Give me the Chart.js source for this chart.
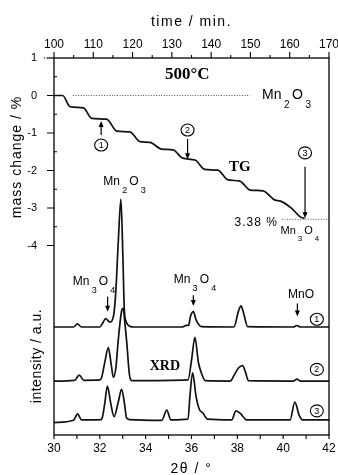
<!DOCTYPE html>
<html>
<head>
<meta charset="utf-8">
<script src="https://cdn.jsdelivr.net/npm/chart.js@4.4.0/dist/chart.umd.min.js"></script>
<style>
  html, body { margin: 0; padding: 0; background: #fff; }
  #wrap { width: 338px; height: 475px; }
</style>
</head>
<body>
<div id="wrap"><canvas id="chart" width="338" height="475"></canvas></div>
<script>
// TG curve at 500°C: time / min against mass change / %
const tgTime = [100, 102.2, 104.1, 107.5, 109.6, 113.4, 116.0, 119.3, 121.9, 124.4, 127.4, 130.3,
                132.8, 135.9, 138.4, 141.7, 144.3, 147.3, 149.9, 153.2, 156.3, 157.5, 160.5, 162.6, 163.8];
const tgMass = [0, 0, -0.30, -0.33, -0.61, -0.63, -0.95, -0.97, -1.23, -1.25, -1.43, -1.45,
                -1.67, -1.72, -1.97, -1.99, -2.25, -2.28, -2.52, -2.54, -2.79, -2.81, -3.01, -3.23, -3.28];

// dotted reference levels (Mn2O3 start, Mn3O4 end)
const levelTime = [[104.8, 149.9], [158.0, 170]];
const levelMass = [0, -3.3];

// XRD patterns (2θ / °, intensity a.u.) for samples 1, 2, 3
const theta1 = [30.0, 30.85, 31.02, 31.2, 32.0, 32.12, 32.25, 32.44, 32.6, 32.7, 32.8, 32.92, 33.0, 33.07, 33.15, 33.3, 33.5,
                35.6, 35.75, 35.88, 35.95, 36.08, 36.2, 36.44, 37.85, 38.05, 38.16, 38.26, 38.45, 40.45, 40.6, 40.75, 42.0];
const intensity1 = [0, 0, 0.8, 0, 0, 1.0, 2.2, 1.3, 3, 9.7, 22, 33.9, 20, 4.4, 1.4, 0.2, 0,
                    0, 0.4, 0.5, 2.7, 4.1, 1.9, 0.1, 0, 4.2, 5.6, 4.0, 0.1, 0, 0.4, 0, 0];

const theta2 = [30.0, 30.9, 31.1, 31.3, 32.0, 32.08, 32.22, 32.37, 32.49, 32.59, 32.7, 32.8, 32.95, 33.02, 33.1, 33.17, 33.29, 33.4,
                35.85, 36.0, 36.15, 36.3, 36.44, 36.6, 37.7, 37.82, 38.04, 38.23, 38.35, 38.48, 40.45, 40.6, 40.75, 42.0];
const intensity2 = [0, 0.2, 1.6, 0.2, 0.3, 1.0, 5.1, 8.9, 4.7, 1.0, 3.5, 10.6, 18.6, 19.3, 15, 10.6, 1.8, 0.1,
                    0.3, 5.5, 11.6, 5, 2.0, 0.1, 0, 1.1, 3.4, 4.1, 2.5, 0.1, 0, 0.5, 0, 0];

const theta3 = [30.0, 30.85, 31.03, 31.2, 32.05, 32.12, 32.22, 32.33, 32.47, 32.62, 32.8, 32.95, 33.07, 33.17, 33.3, 34.7, 34.92, 35.1,
                35.85, 35.93, 36.05, 36.2, 36.35, 36.49, 36.7, 37.75, 37.94, 38.15, 38.4, 40.3, 40.51, 40.7, 40.85, 42.0];
const intensity3 = [-0.4, 0.2, 1.9, 0.3, 0.4, 1.2, 4.9, 9.3, 4.9, 1.2, 4.9, 8.4, 4.9, 0.8, 0.4, 0.2, 2.9, 0.3,
                    0.5, 6.5, 12.8, 6.5, 3, 2.2, 0.5, 0.3, 2.7, 1.9, 0.3, 0.3, 5.0, 1.5, 0.3, 0.3];

const xrdOffset = [28.65, 14.3, 3.7];

// axis ticks
const timeTicks = [100, 110, 120, 130, 140, 150, 160, 170];
const massTicks = [1, 0, -1, -2, -3, -4];
const thetaTicks = [30, 32, 34, 36, 38, 40, 42];

const SANS = '"Liberation Sans", Arial, sans-serif';
const SERIF = '"Liberation Serif", "Times New Roman", serif';

// annotations: [xAxis, yAxis, x, y, ...]
const texts = [
    ['xT', 'y', 133.9, 0.55, '500°C', 'bold 17px ' + SERIF, 'center', 0],
    ['xT', 'y', 147.3, -1.91, 'TG', 'bold 15px ' + SERIF, 'center', 0],
    ['xT', 'y', 157.0, -3.40, '3.38 %', '12px ' + SANS, 'right', 1],
    ['xB', 'yX', 34.84, 18.3, 'XRD', 'bold 14px ' + SERIF, 'center', 0]
];
const formulas = [
    ['xT', 'y', 159.2, 0.01, 'Mn_2O_3', 14],
    ['xT', 'y', 162.6, -3.61, 'Mn_3O_4', 11],
    ['xB', 'yX', 33.08, 67.1, 'Mn_2O_3', 12],
    ['xB', 'yX', 31.75, 40.6, 'Mn_3O_4', 12],
    ['xB', 'yX', 36.15, 41.1, 'Mn_3O_4', 12],
    ['xB', 'yX', 40.78, 37.1, 'MnO', 12]
];
const circles = [
    ['xT', 'y', 112.0, -1.32, '1'],
    ['xT', 'y', 134.0, -0.92, '2'],
    ['xT', 'y', 163.9, -1.53, '3'],
    ['xB', 'yX', 41.47, 30.7, '1'],
    ['xB', 'yX', 41.47, 17.4, '2'],
    ['xB', 'yX', 41.47, 6.4, '3']
];
const arrows = [
    ['xT', 'y', 112.0, -1.05, -0.68],
    ['xT', 'y', 134.0, -1.16, -1.70],
    ['xT', 'y', 163.9, -1.90, -3.27],
    ['xB', 'yX', 32.34, 36.7, 32.7],
    ['xB', 'yX', 36.08, 37.1, 34.2],
    ['xB', 'yX', 40.62, 34.9, 31.4]
];

function toPoints(xs, ys, offset) {
    return xs.map((x, i) => ({ x: x, y: ys[i] + (offset || 0) }));
}

const lineStyle = {
    borderColor: '#111',
    borderWidth: 1.7,
    pointRadius: 0,
    cubicInterpolationMode: 'monotone',
    fill: false
};

const datasets = [
    Object.assign({ data: toPoints(tgTime, tgMass), xAxisID: 'xT', yAxisID: 'y' }, lineStyle),
    Object.assign({ data: toPoints(theta1, intensity1, xrdOffset[0]), xAxisID: 'xB', yAxisID: 'yX' }, lineStyle),
    Object.assign({ data: toPoints(theta2, intensity2, xrdOffset[1]), xAxisID: 'xB', yAxisID: 'yX' }, lineStyle),
    Object.assign({ data: toPoints(theta3, intensity3, xrdOffset[2]), xAxisID: 'xB', yAxisID: 'yX' }, lineStyle)
];
levelTime.forEach((span, i) => {
    datasets.push({
        data: span.map(t => ({ x: t, y: levelMass[i] })),
        xAxisID: 'xT', yAxisID: 'y',
        borderColor: '#555', borderWidth: 1, borderDash: [1, 1.6], pointRadius: 0
    });
});

// Funções de desenho
function drawFormula(ctx, formula, cx, cy, size) {
    const parts = formula.match(/[A-Za-z]+|_\d/g).map(p => p[0] === '_' ? [p.slice(1), true] : [p, false]);
    const big = size + 'px ' + SANS;
    const small = Math.round(size * 0.72) + 'px ' + SANS;
    const gap = size * 0.18;
    const widths = parts.map(([s, sub]) => { ctx.font = sub ? small : big; return ctx.measureText(s).width; });
    const total = widths.reduce((a, b) => a + b, 0) + gap * (parts.length - 1);
    let x = cx - total / 2;
    ctx.textAlign = 'left';
    ctx.textBaseline = 'middle';
    parts.forEach(([s, sub], i) => {
        ctx.font = sub ? small : big;
        ctx.fillText(s, x, sub ? cy + size * 0.72 : cy);
        x += widths[i] + gap;
    });
}

function drawCircled(ctx, digit, cx, cy) {
    ctx.beginPath();
    ctx.ellipse(cx, cy, 6.5, 6, 0, 0, Math.PI * 2);
    ctx.lineWidth = 1.1;
    ctx.stroke();
    ctx.font = '9px ' + SANS;
    ctx.textAlign = 'center';
    ctx.textBaseline = 'middle';
    ctx.fillText(digit, cx, cy + 0.5);
}

function drawArrow(ctx, x, y1, y2) {
    const dir = y2 > y1 ? 1 : -1;
    ctx.lineWidth = 1.2;
    ctx.beginPath();
    ctx.moveTo(x, y1);
    ctx.lineTo(x, y2 - dir * 4);
    ctx.stroke();
    ctx.beginPath();
    ctx.moveTo(x, y2);
    ctx.lineTo(x - 2.5, y2 - dir * 6);
    ctx.lineTo(x + 2.5, y2 - dir * 6);
    ctx.closePath();
    ctx.fill();
}

function spacedText(ctx, text, x, y, font, spacing, rotate, align) {
    ctx.save();
    ctx.translate(x, y);
    if (rotate) ctx.rotate(-Math.PI / 2);
    ctx.font = font;
    ctx.letterSpacing = spacing + 'px';
    ctx.textAlign = align || 'center';
    ctx.textBaseline = 'middle';
    ctx.fillText(text, 0, 0);
    ctx.restore();
}

const decor = {
    id: 'decor',
    afterDatasetsDraw(chart) {
        const { ctx, chartArea: a, scales } = chart;
        const px = (id, v) => scales[id].getPixelForValue(v);
        ctx.save();
        ctx.strokeStyle = '#000';
        ctx.fillStyle = '#000';

        // frame
        ctx.lineWidth = 1.3;
        ctx.strokeRect(a.left, a.top, a.right - a.left, a.bottom - a.top);

        // tick marks
        ctx.lineWidth = 1.1;
        ctx.beginPath();
        for (let v = 1; v >= -4; v -= 0.5) {
            const y = px('y', v);
            if (Number.isInteger(v)) { ctx.moveTo(a.left - 7, y); ctx.lineTo(a.left, y); }
            else { ctx.moveTo(a.left, y); ctx.lineTo(a.left + 3, y); }
        }
        for (let t = 100; t <= 170; t += 5) {
            const x = px('xT', t);
            ctx.moveTo(x, a.top);
            ctx.lineTo(x, a.top - (t % 10 === 0 ? 6 : 3));
        }
        for (let th = 30; th <= 42; th += 1) {
            const x = px('xB', th);
            ctx.moveTo(x, a.bottom);
            ctx.lineTo(x, a.bottom + 4);
        }
        ctx.stroke();

        // dotted line next to the "1" label
        ctx.save();
        ctx.setLineDash([1, 1.5]);
        ctx.lineWidth = 1;
        ctx.beginPath();
        ctx.moveTo(a.left - 10, px('y', 1));
        ctx.lineTo(a.left, px('y', 1));
        ctx.stroke();
        ctx.restore();

        arrows.forEach(([xa, ya, x, y1, y2]) => drawArrow(ctx, px(xa, x), px(ya, y1), px(ya, y2)));
        circles.forEach(([xa, ya, x, y, d]) => drawCircled(ctx, d, px(xa, x), px(ya, y)));
        formulas.forEach(([xa, ya, x, y, f, size]) => drawFormula(ctx, f, px(xa, x), px(ya, y), size));
        texts.forEach(([xa, ya, x, y, s, font, align, sp]) =>
            spacedText(ctx, s, px(xa, x), px(ya, y), font, sp, false, align));

        // axis titles
        const mid = (a.left + a.right) / 2;
        spacedText(ctx, 'time / min.', mid, 22, '14px ' + SANS, 1.5);
        spacedText(ctx, '2θ / °', mid, 469, '14px ' + SANS, 1.5);
        spacedText(ctx, 'mass change / %', 17, 157, '14px ' + SANS, 1, true);
        spacedText(ctx, 'intensity / a.u.', 37, 356, '14px ' + SANS, 0.5, true);
        ctx.restore();
    }
};

const tickFont = { family: SANS, size: 12 };
const noSidePadding = s => { s.paddingLeft = 0; s.paddingRight = 0; };

new Chart(document.getElementById('chart'), {
    type: 'line',
    data: { datasets: datasets },
    options: {
        responsive: false,
        animation: false,
        devicePixelRatio: 1,
        layout: { padding: { top: 0, right: 9, bottom: 0, left: 0 } },
        plugins: { legend: { display: false }, tooltip: { enabled: false } },
        scales: {
            xT: {
                type: 'linear', position: 'top', min: 100, max: 170,
                afterBuildTicks: s => { s.ticks = timeTicks.map(v => ({ value: v })); },
                afterFit: s => { s.height = 58; noSidePadding(s); },
                grid: { display: false }, border: { display: false },
                ticks: { padding: -2, font: tickFont, color: '#000', maxRotation: 0, autoSkip: false }
            },
            xB: {
                type: 'linear', position: 'bottom', min: 30, max: 42,
                afterBuildTicks: s => { s.ticks = thetaTicks.map(v => ({ value: v })); },
                afterFit: s => { s.height = 40; noSidePadding(s); },
                grid: { display: false }, border: { display: false },
                ticks: { padding: -2, font: tickFont, color: '#000', maxRotation: 0, autoSkip: false }
            },
            y: {
                type: 'linear', position: 'left', min: -9.05, max: 1,
                afterBuildTicks: s => { s.ticks = massTicks.map(v => ({ value: v })); },
                afterFit: s => { s.width = 54; },
                grid: { display: false }, border: { display: false },
                ticks: { padding: 9, font: { family: SANS, size: 11 }, color: '#000', autoSkip: false }
            },
            yX: { type: 'linear', display: false, min: 0, max: 100 }
        }
    },
    plugins: [decor]
});
</script>
</body>
</html>
